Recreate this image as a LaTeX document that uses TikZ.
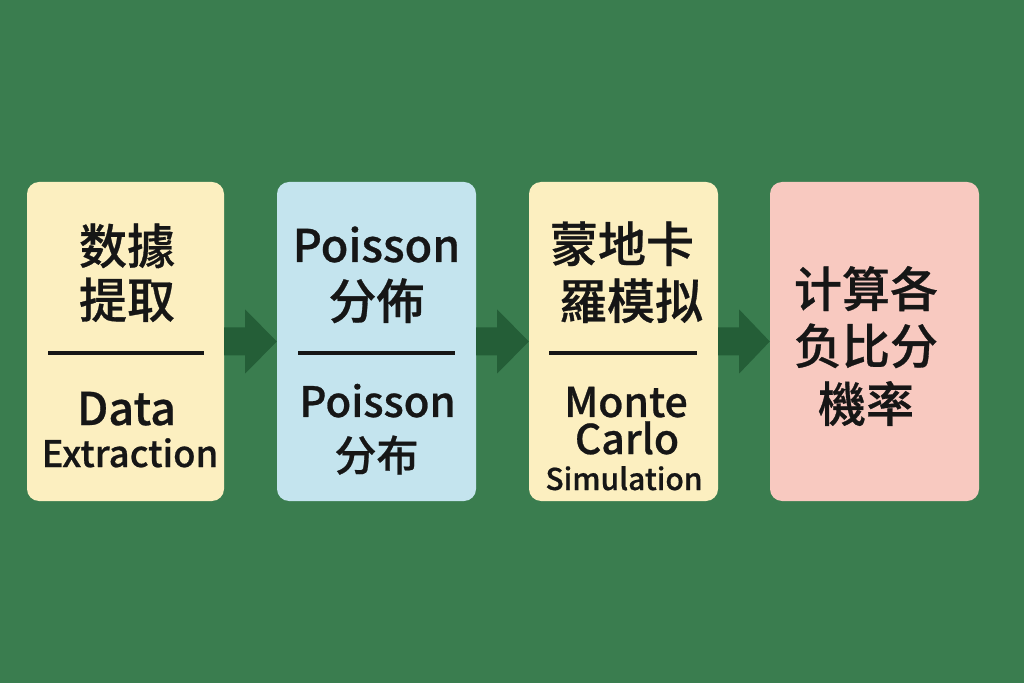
\documentclass[tikz,border=0pt]{standalone}
\usepackage{fontspec}
\setmainfont{Noto Sans CJK SC Medium}[FakeBold=0.6]
\usetikzlibrary{calc}
\definecolor{bg}{HTML}{3A7D4F}
\definecolor{arr}{HTML}{245E37}
\definecolor{yel}{HTML}{FCEFC0}
\definecolor{blu}{HTML}{C4E4EE}
\definecolor{pnk}{HTML}{F8C9C0}
\definecolor{ink}{HTML}{161616}
\tikzset{
  card/.style={rounded corners=12pt, minimum height=319pt, inner sep=0pt, draw=none},
  txt/.style={anchor=base, inner sep=0pt, text=ink, font=\fontsize{48}{52}\selectfont},
  txtl/.style={txt, font=\fontsize{45}{49}\selectfont},
  txtk/.style={txt, font=\fontsize{42}{46}\selectfont},
  txtm/.style={txt, font=\fontsize{36.5}{40}\selectfont},
  txtn/.style={txt, font=\fontsize{41}{45}\selectfont},
  txts/.style={txt, font=\fontsize{30}{34}\selectfont},
  rule/.style={line width=3.5pt, draw=ink},
  blockarrow/.style={fill=arr, draw=none}
}
\begin{document}
\begin{tikzpicture}[x=1pt,y=1pt]
\fill[bg] (0,0) rectangle (1024,683);
\useasboundingbox (0,0) rectangle (1024,683);
% cards
\node[card, fill=yel, minimum width=197pt] (b1) at (125.5,341.5) {};
\node[card, fill=blu, minimum width=199pt] (b2) at (376.5,341.5) {};
\node[card, fill=yel, minimum width=189pt] (b3) at (623.5,341.5) {};
\node[card, fill=pnk, minimum width=209pt] (b4) at (874.5,341.5) {};
% arrows
\foreach \a/\b in {b1/b2, b2/b3, b3/b4}{
  \fill[blockarrow] ($(\a.east)+(0,14)$) -- ($(\a.east)+(21,14)$) -- ($(\a.east)+(21,32)$)
    -- ($(\b.west)+(0,0)$) -- ($(\a.east)+(21,-32)$) -- ($(\a.east)+(21,-14)$)
    -- ($(\a.east)+(0,-14)$) -- cycle;
}
% box 1
\node[txt] (t11) at (127,419) {数據};
\node[txt] (t12) at (127,365) {提取};
\coordinate (l1a) at (48,330); \coordinate (l1b) at (204,330);
\draw[rule] (l1a) -- (l1b);
\node[txtl] (t13) at (126.5,258) {Data};
\node[txtm] (t14) at (130,216) {Extraction};
% box 2
\node[txtl] (t21) at (376.5,421) {Poisson};
\node[txt] (t22) at (376.5,364) {分佈};
\coordinate (l2a) at (298,330); \coordinate (l2b) at (455,330);
\draw[rule] (l2a) -- (l2b);
\node[txtk] (t23) at (377.5,266) {Poisson};
\node[txtk] (t24) at (376.5,212) {分布};
% box 3
\node[txt] (t31) at (622,421) {蒙地卡};
\node[txt] (t32) at (631,364) {羅模拟};
\coordinate (l3a) at (549,330); \coordinate (l3b) at (697,330);
\draw[rule] (l3a) -- (l3b);
\node[txtn] (t33) at (626,266) {Monte};
\node[txtn] (t34) at (627,229) {Carlo};
\node[txts] (t35) at (624,193) {Simulation};
% box 4
\node[txt] (t41) at (866,376) {计算各};
\node[txt] (t42) at (866,319) {负比分};
\node[txt] (t43) at (866,261) {機率};
\end{tikzpicture}
\end{document}
